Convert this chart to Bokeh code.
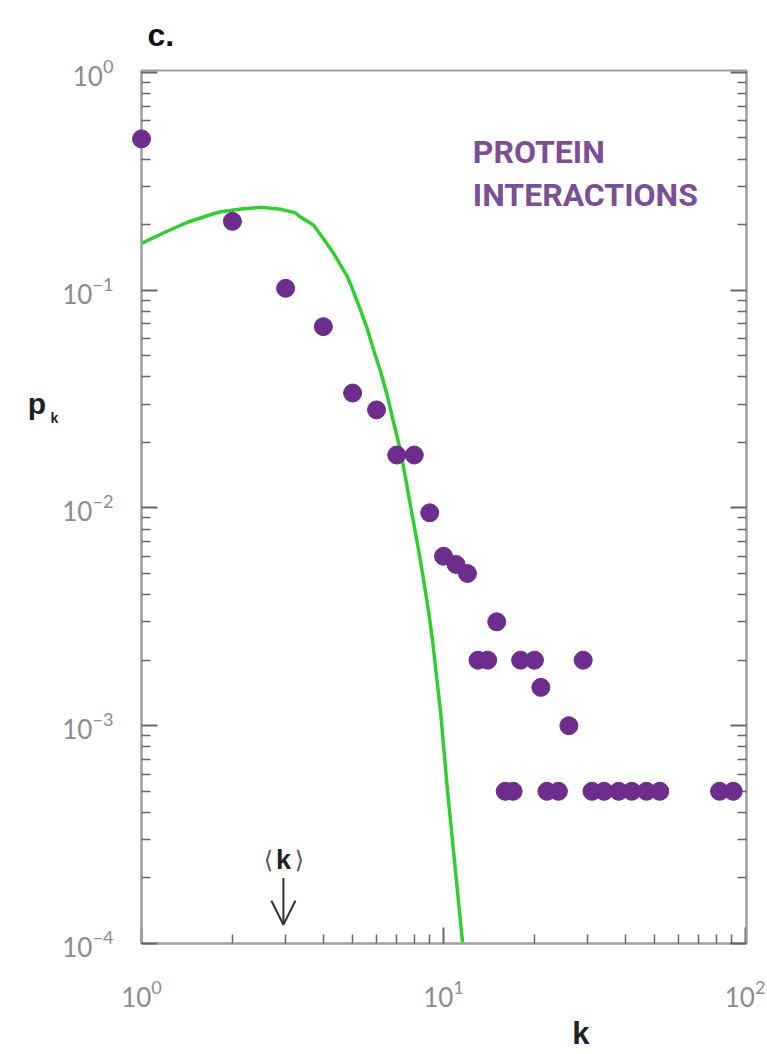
from bokeh.plotting import figure
from bokeh.models import FixedTicker, LogAxis, Arrow, OpenHead
from bokeh.core.properties import value
from bokeh.embed import file_html
from bokeh.resources import INLINE

# ---- data ----
k_vals = [1, 2, 3, 4, 5, 6, 7, 8, 9, 10, 11, 12, 13, 14, 15, 16, 17, 18, 20, 21,
          22, 24, 26, 29, 31, 34, 38, 42, 47, 52, 82, 91]
pk_vals = [0.495, 0.207, 0.102, 0.068, 0.0337, 0.0282, 0.0175, 0.0175, 0.0095, 0.006,
           0.0055, 0.005, 0.002, 0.002, 0.003, 0.0005, 0.0005, 0.002, 0.002, 0.0015,
           0.0005, 0.0005, 0.001, 0.002, 0.0005, 0.0005, 0.0005, 0.0005, 0.0005, 0.0005,
           0.0005, 0.0005]

# green (theoretical) curve
curve_k = [1.0, 1.19, 1.42, 1.69, 1.83, 2.14, 2.48, 2.90, 3.22, 3.37, 3.71, 3.98,
           4.32, 4.55, 4.81, 5.04, 5.31, 5.60, 5.87, 6.20, 6.53, 6.80, 7.21, 7.60,
           7.96, 8.27, 8.59, 8.92, 9.19, 9.80, 10.3, 10.9, 11.56]
curve_p = [0.164, 0.184, 0.205, 0.222, 0.229, 0.236, 0.240, 0.235, 0.227, 0.216,
           0.199, 0.174, 0.148, 0.131, 0.115, 0.098, 0.081, 0.066, 0.053, 0.042,
           0.0323, 0.0254, 0.0182, 0.0122, 0.00853, 0.00640, 0.00467, 0.00335,
           0.00248, 0.00112, 0.000508, 0.000231, 0.000101]

k_mean = 2.95

x_major = [1, 10, 100]
x_minor = [2, 3, 4, 5, 6, 7, 8, 9, 20, 30, 40, 50, 60, 70, 80, 90]
y_major = [1e-4, 1e-3, 1e-2, 1e-1, 1]
y_minor = [m * d for d in [1e-4, 1e-3, 1e-2, 1e-1] for m in range(2, 10)]

DOT = "#6c2d8c"
GREEN = "#33cc33"
AXIS = "#a0a0a0"
TICK = "#666666"
TICKLBL = "#8c8c8c"

p = figure(width=765, height=1054, x_axis_type="log", y_axis_type="log",
           x_range=(1, 100.7), y_range=(1e-4, 1.02),
           output_backend="svg", toolbar_location=None,
           min_border_left=141, min_border_right=19, min_border_top=70,
           min_border_bottom=111)
p.xgrid.visible = False
p.ygrid.visible = False
p.outline_line_color = AXIS
p.outline_line_width = 2
p.background_fill_color = "white"
p.border_fill_color = "white"

def style_axis(ax, ticker, labels=True, standoff=30):
    ax.ticker = ticker
    ax.axis_line_color = AXIS
    ax.axis_line_width = 2
    ax.major_tick_in = 16
    ax.major_tick_out = 0
    ax.minor_tick_in = 9
    ax.minor_tick_out = 0
    ax.major_tick_line_color = TICK
    ax.major_tick_line_width = 2
    ax.minor_tick_line_color = TICK
    ax.minor_tick_line_width = 1.5
    ax.major_label_standoff = standoff
    if labels:
        ax.major_label_text_font = "Lato"
        ax.major_label_text_font_size = "26px"
        ax.major_label_text_color = TICKLBL
    else:
        ax.major_label_text_font_size = "0px"
        ax.major_label_text_alpha = 0

xt = FixedTicker(ticks=x_major, minor_ticks=x_minor)
yt = FixedTicker(ticks=y_major, minor_ticks=y_minor)
style_axis(p.xaxis[0], xt, True, 36)
style_axis(p.yaxis[0], yt, True, 28)

right = LogAxis()
style_axis(right, FixedTicker(ticks=y_major, minor_ticks=y_minor), False, 2)
p.add_layout(right, "right")

# theoretical curve
p.line(curve_k, curve_p, line_color=GREEN, line_width=3.5, line_join="round")

# data points
p.scatter(k_vals, pk_vals, size=18, fill_color=DOT, line_color=DOT, level="overlay")

def txt(x, y, s, font, size, color, style="normal", align="left", x_off=0):
    p.text(x=[x], y=[y], text=[s], text_font=value(font), text_font_style=style,
           text_font_size=value(size), text_color=color, text_align=align,
           text_baseline="alphabetic", x_offset=x_off, level="overlay")

# outer texts
txt(1.047, 1.48, "c.", "Liberation Sans", "32px", "#111111", "bold")
txt(0.42, 0.0303, "p", "Liberation Sans", "30px", "#222222", "bold")
txt(0.5, 0.0259, "k", "Liberation Sans", "14px", "#222222", "bold")
txt(26.7, 3.85e-5, "k", "Liberation Sans", "31px", "#222222", "bold")

# series label
txt(12.5, 0.43, "PROTEIN", "Roboto", "32px", "#7b4f93", "bold")
txt(12.5, 0.273, "INTERACTIONS", "Roboto", "32px", "#7b4f93", "bold")

# <k> marker
txt(k_mean, 2.43e-4, "k", "Liberation Sans", "27px", "#222222", "bold", "center")
txt(k_mean, 2.43e-4, "\u27e8", "DejaVu Sans", "24px", "#555555", "normal", "center", -15)
txt(k_mean, 2.43e-4, "\u27e9", "DejaVu Sans", "24px", "#555555", "normal", "center", 16)
p.add_layout(Arrow(x_start=k_mean, y_start=2.0e-4, x_end=k_mean, y_end=1.22e-4,
                   line_color="#333333", line_width=2,
                   end=OpenHead(size=24, line_color="#333333", line_width=2)))

open("out.html", "w").write(file_html(p, INLINE))
